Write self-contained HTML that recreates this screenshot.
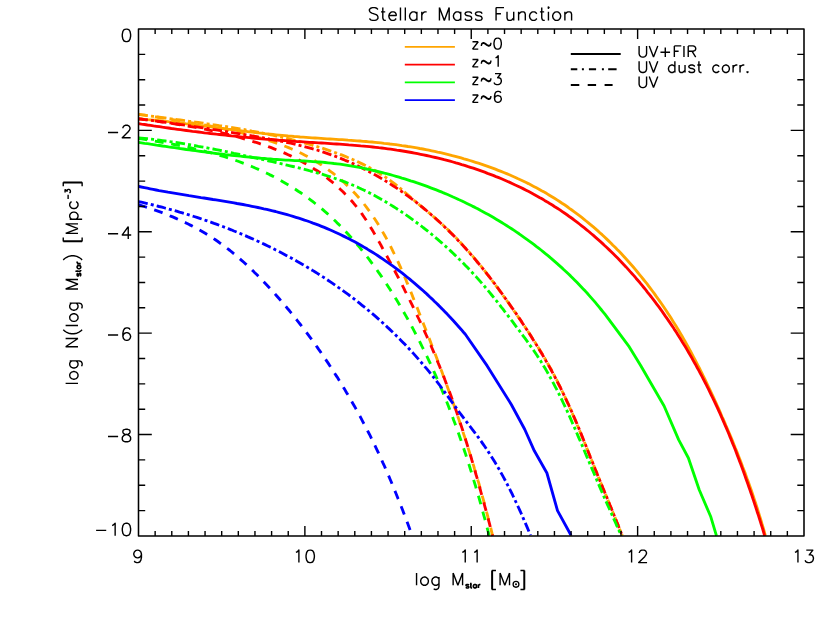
<!DOCTYPE html>
<html><head><meta charset="utf-8"><title>Stellar Mass Function</title>
<style>html,body{margin:0;padding:0;background:#fff;}svg{display:block;}text{font-family:"Liberation Sans",sans-serif;fill:#000;}</style></head><body>
<svg width="830" height="624" viewBox="0 0 830 624">
<rect width="830" height="624" fill="#fff"/>
<defs><clipPath id="cp"><rect x="138.5" y="29.0" width="665.5" height="507.55000000000007"/></clipPath></defs>
<g clip-path="url(#cp)" fill="none" stroke-width="2.85" stroke-linejoin="round">
<path d="M138.5,118.8 L141.5,119.0 L144.5,119.3 L147.5,119.6 L150.5,119.8 L153.5,120.1 L156.5,120.4 L159.5,120.7 L162.5,121.0 L165.5,121.3 L168.5,121.7 L171.5,122.0 L174.4,122.3 L177.4,122.7 L180.4,123.0 L183.4,123.4 L186.4,123.8 L189.4,124.1 L192.4,124.5 L195.4,124.9 L198.4,125.3 L201.4,125.7 L204.4,126.0 L207.3,126.4 L210.3,126.8 L213.3,127.2 L216.3,127.6 L219.3,128.0 L222.3,128.4 L225.3,128.8 L228.3,129.2 L231.3,129.5 L234.3,129.9 L237.2,130.3 L240.2,130.7 L243.2,131.1 L246.2,131.4 L249.2,131.8 L252.2,132.2 L255.2,132.5 L258.2,132.9 L261.2,133.2 L264.2,133.6 L267.1,133.9 L270.1,134.2 L273.1,134.5 L276.1,134.8 L279.1,135.1 L282.1,135.4 L285.1,135.7 L288.1,136.0 L291.1,136.2 L294.1,136.5 L297.1,136.7 L300.1,137.0 L303.1,137.2 L306.1,137.4 L309.1,137.6 L312.1,137.8 L315.1,138.0 L318.0,138.2 L321.0,138.4 L324.0,138.6 L327.0,138.8 L330.0,139.0 L333.0,139.2 L336.0,139.4 L339.0,139.6 L342.0,139.7 L345.0,139.9 L348.0,140.2 L351.0,140.4 L354.0,140.6 L357.0,140.8 L360.0,141.0 L363.0,141.3 L366.0,141.5 L369.0,141.8 L372.0,142.0 L375.0,142.3 L378.0,142.6 L381.0,142.9 L384.0,143.3 L387.0,143.6 L390.0,144.0 L393.0,144.3 L396.0,144.7 L398.9,145.1 L401.9,145.6 L404.9,146.0 L407.9,146.5 L410.9,146.9 L413.9,147.4 L416.9,147.9 L419.8,148.5 L422.8,149.0 L425.8,149.6 L428.8,150.2 L431.7,150.8 L434.7,151.4 L437.6,152.1 L440.6,152.7 L443.5,153.4 L446.5,154.1 L449.4,154.8 L452.3,155.6 L455.3,156.3 L458.2,157.1 L461.1,157.9 L464.0,158.8 L466.9,159.6 L469.8,160.5 L472.7,161.4 L475.5,162.3 L478.4,163.2 L481.3,164.1 L484.1,165.1 L487.0,166.1 L489.8,167.1 L492.6,168.1 L495.4,169.2 L498.2,170.3 L501.0,171.4 L503.8,172.5 L506.6,173.6 L509.4,174.8 L512.1,176.0 L514.9,177.2 L517.6,178.5 L520.3,179.7 L523.0,181.0 L525.7,182.3 L528.4,183.6 L531.1,185.0 L533.7,186.4 L536.4,187.8 L539.0,189.2 L541.6,190.7 L544.2,192.1 L546.8,193.6 L549.4,195.2 L551.9,196.7 L554.5,198.3 L557.0,199.9 L559.5,201.5 L562.0,203.2 L564.5,204.8 L567.0,206.5 L569.4,208.3 L571.8,210.0 L574.3,211.8 L576.7,213.6 L579.1,215.4 L581.4,217.2 L583.8,219.1 L586.1,221.0 L588.4,222.9 L590.8,224.8 L593.0,226.7 L595.3,228.7 L597.6,230.7 L599.8,232.7 L602.1,234.7 L604.3,236.8 L606.5,238.9 L608.6,240.9 L610.8,243.0 L612.9,245.2 L615.1,247.3 L617.2,249.5 L619.3,251.6 L621.4,253.8 L623.4,256.0 L625.5,258.3 L627.5,260.5 L629.5,262.8 L631.5,265.0 L633.5,267.3 L635.5,269.6 L637.4,272.0 L639.3,274.3 L641.2,276.6 L643.1,279.0 L645.0,281.4 L646.9,283.7 L648.7,286.1 L650.6,288.6 L652.4,291.0 L654.2,293.4 L655.9,295.9 L657.7,298.3 L659.5,300.8 L661.2,303.2 L662.9,305.7 L664.6,308.2 L666.3,310.7 L667.9,313.3 L669.6,315.8 L671.2,318.3 L672.8,320.9 L674.4,323.4 L676.0,326.0 L677.5,328.5 L679.1,331.1 L680.6,333.7 L682.1,336.3 L683.6,338.9 L685.1,341.5 L686.6,344.1 L688.0,346.7 L689.5,349.4 L690.9,352.0 L692.3,354.6 L693.7,357.3 L695.1,359.9 L696.5,362.6 L697.9,365.3 L699.3,368.0 L700.6,370.6 L702.0,373.3 L703.3,376.0 L704.6,378.7 L705.9,381.4 L707.2,384.1 L708.5,386.8 L709.8,389.6 L711.1,392.3 L712.4,395.0 L713.6,397.7 L714.9,400.5 L716.1,403.2 L717.4,406.0 L718.6,408.7 L719.8,411.4 L721.0,414.2 L722.2,417.0 L723.5,419.7 L724.7,422.5 L725.8,425.3 L727.0,428.0 L728.2,430.8 L729.4,433.6 L730.6,436.4 L731.7,439.1 L732.9,441.9 L734.0,444.7 L735.1,447.5 L736.3,450.3 L737.4,453.1 L738.5,455.9 L739.6,458.7 L740.7,461.5 L741.8,464.4 L742.8,467.2 L743.9,470.0 L745.0,472.8 L746.0,475.7 L747.0,478.5 L748.1,481.3 L749.1,484.2 L750.1,487.0 L751.1,489.8 L752.1,492.7 L753.0,495.5 L754.0,498.4 L754.9,501.3 L755.9,504.1 L756.8,507.0 L757.7,509.8 L758.6,512.7 L759.5,515.6 L760.4,518.5 L761.3,521.4 L762.1,524.2 L763.0,527.1 L763.8,530.0 L764.6,532.9 L765.4,535.8" stroke="#FFA500"/>
<path d="M138.5,114.3 L141.5,114.7 L144.5,115.1 L147.4,115.6 L150.4,116.0 L153.4,116.4 L156.4,116.8 L159.4,117.2 L162.4,117.6 L165.4,118.0 L168.4,118.4 L171.3,118.8 L174.3,119.2 L177.3,119.6 L180.3,120.0 L183.3,120.4 L186.3,120.8 L189.3,121.3 L192.3,121.7 L195.3,122.1 L198.3,122.5 L201.3,122.9 L204.2,123.4 L207.2,123.8 L210.2,124.2 L213.2,124.7 L216.2,125.1 L219.2,125.6 L222.2,126.0 L225.2,126.5 L228.1,127.0 L231.1,127.4 L234.1,127.9 L237.1,128.4 L240.1,128.9 L243.0,129.4 L246.0,130.0 L249.0,130.5 L251.9,131.1 L254.9,131.6 L257.9,132.2 L260.8,132.8 L263.8,133.3 L266.7,133.9 L269.7,134.6 L272.7,135.2 L275.6,135.8 L278.5,136.5 L281.5,137.2 L284.4,137.8 L287.4,138.5 L290.3,139.2 L293.2,140.0 L296.1,140.7 L299.1,141.5 L302.0,142.3 L304.9,143.1 L307.8,143.9 L310.7,144.7 L313.6,145.6 L316.5,146.4 L319.4,147.3 L322.3,148.2 L325.2,149.2 L328.0,150.1 L330.9,151.1 L333.8,152.1 L336.6,153.1 L339.4,154.1 L342.3,155.2 L345.1,156.3 L347.9,157.5 L350.7,158.6 L353.4,159.8 L356.2,161.0 L358.9,162.3 L361.6,163.6 L364.3,164.9 L367.0,166.3 L369.7,167.7 L372.3,169.1 L374.9,170.6 L377.5,172.1 L380.1,173.7 L382.6,175.3 L385.1,176.9 L387.6,178.6 L390.0,180.3 L392.4,182.1 L394.8,183.9 L397.2,185.8 L399.5,187.7 L401.8,189.7 L404.1,191.6 L406.4,193.6 L408.7,195.6 L410.9,197.6 L413.2,199.6 L415.5,201.5 L417.8,203.5 L420.2,205.5 L422.5,207.4 L424.8,209.4 L427.1,211.3 L429.5,213.2 L431.8,215.2 L434.1,217.2 L436.4,219.1 L438.6,221.1 L440.9,223.2 L443.1,225.2 L445.3,227.2 L447.5,229.3 L449.7,231.4 L451.8,233.5 L453.9,235.7 L456.0,237.8 L458.1,240.0 L460.2,242.2 L462.2,244.4 L464.2,246.6 L466.2,248.8 L468.2,251.1 L470.2,253.3 L472.2,255.6 L474.1,257.9 L476.0,260.2 L478.0,262.5 L479.9,264.8 L481.8,267.2 L483.6,269.5 L485.5,271.9 L487.3,274.3 L489.2,276.7 L491.0,279.1 L492.8,281.5 L494.6,283.9 L496.4,286.3 L498.2,288.7 L500.0,291.2 L501.8,293.6 L503.5,296.1 L505.3,298.5 L507.1,301.0 L508.8,303.5 L510.5,305.9 L512.3,308.4 L514.0,310.9 L515.7,313.4 L517.5,315.9 L519.2,318.4 L520.9,320.8 L522.6,323.4 L524.3,325.9 L526.0,328.4 L527.6,330.9 L529.3,333.4 L530.9,335.9 L532.6,338.5 L534.2,341.0 L535.8,343.6 L537.4,346.1 L539.0,348.7 L540.6,351.3 L542.2,353.9 L543.7,356.4 L545.2,359.0 L546.7,361.7 L548.2,364.3 L549.7,366.9 L551.2,369.5 L552.6,372.2 L554.0,374.9 L555.4,377.5 L556.8,380.2 L558.1,382.9 L559.5,385.6 L560.8,388.3 L562.1,391.0 L563.4,393.7 L564.7,396.4 L566.0,399.2 L567.2,401.9 L568.5,404.6 L569.7,407.4 L570.9,410.2 L572.1,412.9 L573.3,415.7 L574.5,418.5 L575.7,421.2 L576.9,424.0 L578.0,426.8 L579.2,429.6 L580.4,432.4 L581.5,435.2 L582.6,437.9 L583.8,440.7 L584.9,443.5 L586.1,446.3 L587.2,449.1 L588.3,451.9 L589.5,454.7 L590.6,457.5 L591.7,460.3 L592.9,463.1 L594.0,465.9 L595.1,468.7 L596.3,471.5 L597.4,474.3 L598.5,477.1 L599.7,479.9 L600.8,482.7 L602.0,485.5 L603.1,488.3 L604.3,491.1 L605.4,493.8 L606.5,496.6 L607.7,499.4 L608.8,502.2 L609.9,505.0 L611.1,507.8 L612.2,510.6 L613.3,513.4 L614.5,516.2 L615.6,519.0 L616.7,521.8 L617.9,524.6 L619.0,527.4 L620.1,530.2 L621.2,533.0 L622.3,535.8" stroke="#FFA500" stroke-dasharray="9.481 3.110 3.010 3.110"/>
<path d="M138.5,114.3 L141.5,114.8 L144.4,115.2 L147.4,115.7 L150.4,116.1 L153.4,116.6 L156.4,117.0 L159.3,117.5 L162.3,117.9 L165.3,118.4 L168.3,118.9 L171.3,119.3 L174.2,119.8 L177.2,120.3 L180.2,120.8 L183.2,121.3 L186.2,121.8 L189.2,122.3 L192.1,122.8 L195.1,123.3 L198.1,123.8 L201.1,124.4 L204.1,124.9 L207.0,125.5 L210.0,126.0 L213.0,126.6 L215.9,127.2 L218.9,127.8 L221.8,128.4 L224.8,129.1 L227.8,129.7 L230.7,130.4 L233.6,131.0 L236.6,131.7 L239.5,132.4 L242.5,133.1 L245.4,133.9 L248.3,134.6 L251.2,135.4 L254.1,136.2 L257.0,137.0 L260.0,137.8 L262.8,138.7 L265.7,139.6 L268.6,140.5 L271.5,141.4 L274.3,142.3 L277.2,143.3 L280.0,144.3 L282.9,145.4 L285.7,146.5 L288.5,147.6 L291.2,148.8 L294.0,150.0 L296.7,151.2 L299.5,152.5 L302.2,153.8 L304.9,155.2 L307.5,156.6 L310.2,158.1 L312.8,159.6 L315.4,161.1 L318.0,162.7 L320.5,164.3 L323.0,166.0 L325.5,167.7 L328.0,169.5 L330.4,171.3 L332.9,173.1 L335.2,175.0 L337.6,176.9 L339.9,178.8 L342.2,180.8 L344.4,182.8 L346.6,184.9 L348.8,187.0 L350.9,189.1 L353.0,191.3 L355.1,193.5 L357.1,195.7 L359.1,198.0 L361.1,200.3 L363.0,202.6 L364.8,205.0 L366.6,207.4 L368.4,209.8 L370.2,212.2 L371.9,214.7 L373.6,217.2 L375.3,219.7 L376.9,222.2 L378.5,224.8 L380.1,227.4 L381.6,230.0 L383.1,232.6 L384.6,235.2 L386.1,237.9 L387.5,240.5 L388.9,243.2 L390.3,245.9 L391.7,248.6 L393.0,251.3 L394.3,254.0 L395.6,256.7 L396.9,259.4 L398.2,262.2 L399.4,264.9 L400.7,267.7 L401.9,270.5 L403.1,273.2 L404.3,276.0 L405.5,278.8 L406.6,281.6 L407.8,284.4 L408.9,287.1 L410.1,289.9 L411.2,292.7 L412.3,295.5 L413.4,298.4 L414.6,301.2 L415.7,304.0 L416.8,306.8 L417.9,309.6 L419.0,312.4 L420.1,315.2 L421.2,318.0 L422.3,320.8 L423.4,323.7 L424.5,326.5 L425.6,329.3 L426.7,332.1 L427.8,334.9 L428.9,337.7 L430.0,340.5 L431.0,343.3 L432.1,346.2 L433.2,349.0 L434.3,351.8 L435.4,354.6 L436.5,357.4 L437.5,360.2 L438.6,363.1 L439.7,365.9 L440.7,368.7 L441.8,371.5 L442.8,374.4 L443.9,377.2 L444.9,380.0 L446.0,382.9 L447.0,385.7 L448.0,388.5 L449.0,391.4 L450.1,394.2 L451.1,397.0 L452.1,399.9 L453.1,402.7 L454.1,405.6 L455.1,408.4 L456.0,411.3 L457.0,414.1 L458.0,417.0 L459.0,419.9 L459.9,422.7 L460.9,425.6 L461.8,428.5 L462.8,431.3 L463.7,434.2 L464.7,437.1 L465.6,439.9 L466.5,442.8 L467.4,445.7 L468.3,448.6 L469.2,451.4 L470.1,454.3 L471.0,457.2 L471.9,460.1 L472.8,463.0 L473.7,465.9 L474.5,468.8 L475.4,471.7 L476.2,474.5 L477.1,477.4 L477.9,480.3 L478.8,483.2 L479.6,486.2 L480.4,489.1 L481.2,492.0 L482.0,494.9 L482.8,497.8 L483.6,500.7 L484.4,503.6 L485.2,506.5 L486.0,509.4 L486.7,512.4 L487.5,515.3 L488.2,518.2 L489.0,521.1 L489.7,524.1 L490.5,527.0 L491.2,529.9 L491.9,532.9 L492.6,535.8" stroke="#FFA500" stroke-dasharray="8.880 7.742"/>
<path d="M138.5,123.6 L141.5,124.1 L144.5,124.5 L147.5,125.0 L150.5,125.4 L153.5,125.9 L156.5,126.3 L159.4,126.7 L162.4,127.2 L165.4,127.6 L168.4,128.0 L171.4,128.5 L174.4,128.9 L177.4,129.3 L180.4,129.7 L183.4,130.1 L186.4,130.5 L189.4,130.9 L192.4,131.3 L195.4,131.6 L198.4,132.0 L201.4,132.4 L204.4,132.8 L207.4,133.1 L210.4,133.5 L213.4,133.8 L216.4,134.2 L219.4,134.5 L222.4,134.9 L225.4,135.2 L228.4,135.5 L231.4,135.9 L234.4,136.2 L237.4,136.5 L240.4,136.8 L243.4,137.1 L246.4,137.4 L249.4,137.7 L252.4,138.0 L255.5,138.3 L258.5,138.5 L261.5,138.8 L264.5,139.1 L267.5,139.3 L270.5,139.6 L273.5,139.8 L276.5,140.0 L279.5,140.3 L282.5,140.5 L285.5,140.7 L288.5,140.9 L291.5,141.2 L294.5,141.4 L297.6,141.6 L300.6,141.7 L303.6,141.9 L306.6,142.1 L309.6,142.3 L312.6,142.5 L315.6,142.7 L318.6,142.9 L321.6,143.0 L324.6,143.2 L327.6,143.4 L330.6,143.6 L333.7,143.8 L336.7,144.0 L339.7,144.2 L342.7,144.4 L345.7,144.6 L348.7,144.9 L351.7,145.1 L354.7,145.3 L357.7,145.6 L360.7,145.9 L363.7,146.1 L366.7,146.4 L369.7,146.7 L372.7,147.0 L375.7,147.3 L378.7,147.7 L381.7,148.0 L384.7,148.4 L387.7,148.8 L390.7,149.2 L393.7,149.6 L396.7,150.1 L399.7,150.5 L402.7,151.0 L405.7,151.5 L408.6,152.0 L411.6,152.5 L414.6,153.1 L417.6,153.7 L420.6,154.3 L423.5,154.9 L426.5,155.5 L429.5,156.1 L432.4,156.8 L435.4,157.5 L438.3,158.2 L441.3,158.9 L444.2,159.7 L447.1,160.4 L450.1,161.2 L453.0,162.0 L455.9,162.9 L458.8,163.7 L461.7,164.6 L464.6,165.4 L467.5,166.4 L470.4,167.3 L473.3,168.2 L476.1,169.2 L479.0,170.2 L481.8,171.2 L484.7,172.2 L487.5,173.3 L490.3,174.3 L493.2,175.4 L496.0,176.6 L498.8,177.7 L501.5,178.8 L504.3,180.0 L507.1,181.2 L509.8,182.4 L512.6,183.7 L515.3,185.0 L518.0,186.2 L520.8,187.6 L523.5,188.9 L526.1,190.2 L528.8,191.6 L531.5,193.0 L534.1,194.4 L536.8,195.9 L539.4,197.4 L542.0,198.8 L544.6,200.4 L547.2,201.9 L549.7,203.5 L552.3,205.0 L554.8,206.7 L557.3,208.3 L559.9,209.9 L562.3,211.6 L564.8,213.3 L567.3,215.0 L569.7,216.8 L572.2,218.5 L574.6,220.3 L577.0,222.1 L579.4,224.0 L581.7,225.8 L584.1,227.7 L586.4,229.6 L588.8,231.5 L591.1,233.5 L593.4,235.4 L595.6,237.4 L597.9,239.4 L600.2,241.4 L602.4,243.4 L604.6,245.5 L606.8,247.5 L609.0,249.6 L611.2,251.7 L613.3,253.8 L615.5,256.0 L617.6,258.1 L619.7,260.3 L621.8,262.5 L623.9,264.7 L626.0,266.9 L628.0,269.1 L630.0,271.4 L632.1,273.7 L634.1,275.9 L636.0,278.2 L638.0,280.5 L640.0,282.8 L641.9,285.2 L643.8,287.5 L645.8,289.9 L647.6,292.3 L649.5,294.6 L651.4,297.0 L653.2,299.4 L655.1,301.9 L656.9,304.3 L658.7,306.7 L660.5,309.2 L662.3,311.6 L664.0,314.1 L665.7,316.6 L667.5,319.1 L669.2,321.6 L670.9,324.1 L672.6,326.6 L674.2,329.1 L675.9,331.6 L677.5,334.2 L679.1,336.7 L680.7,339.3 L682.3,341.9 L683.9,344.4 L685.5,347.0 L687.0,349.6 L688.5,352.2 L690.0,354.8 L691.6,357.4 L693.0,360.1 L694.5,362.7 L696.0,365.3 L697.4,368.0 L698.9,370.6 L700.3,373.3 L701.7,375.9 L703.1,378.6 L704.5,381.3 L705.9,384.0 L707.2,386.7 L708.6,389.4 L709.9,392.1 L711.2,394.8 L712.5,397.5 L713.8,400.2 L715.1,402.9 L716.4,405.7 L717.7,408.4 L718.9,411.2 L720.2,413.9 L721.4,416.7 L722.6,419.4 L723.8,422.2 L725.0,425.0 L726.2,427.7 L727.4,430.5 L728.6,433.3 L729.7,436.1 L730.9,438.9 L732.0,441.7 L733.1,444.5 L734.3,447.3 L735.4,450.1 L736.5,452.9 L737.5,455.7 L738.6,458.6 L739.7,461.4 L740.8,464.2 L741.8,467.0 L742.9,469.9 L743.9,472.7 L744.9,475.6 L745.9,478.4 L746.9,481.3 L747.9,484.1 L748.9,487.0 L749.9,489.8 L750.9,492.7 L751.9,495.5 L752.8,498.4 L753.8,501.3 L754.7,504.1 L755.7,507.0 L756.6,509.9 L757.5,512.8 L758.5,515.6 L759.4,518.5 L760.3,521.4 L761.2,524.3 L762.1,527.1 L763.0,530.0 L763.8,532.9 L764.7,535.8" stroke="#FF0000"/>
<path d="M138.5,118.8 L141.5,119.2 L144.5,119.6 L147.5,119.9 L150.5,120.3 L153.5,120.7 L156.5,121.1 L159.5,121.5 L162.5,121.9 L165.5,122.3 L168.5,122.7 L171.4,123.2 L174.4,123.6 L177.4,124.0 L180.4,124.5 L183.4,124.9 L186.4,125.3 L189.3,125.8 L192.3,126.2 L195.3,126.7 L198.3,127.1 L201.3,127.6 L204.3,128.1 L207.2,128.5 L210.2,129.0 L213.2,129.5 L216.2,129.9 L219.1,130.4 L222.1,130.9 L225.1,131.4 L228.1,131.9 L231.1,132.4 L234.0,132.9 L237.0,133.4 L240.0,133.9 L243.0,134.4 L246.0,134.9 L249.0,135.4 L251.9,135.9 L254.9,136.4 L257.9,136.9 L260.9,137.4 L263.9,138.0 L266.9,138.5 L269.8,139.1 L272.8,139.6 L275.8,140.2 L278.8,140.8 L281.7,141.4 L284.7,142.0 L287.6,142.6 L290.6,143.2 L293.6,143.9 L296.5,144.6 L299.4,145.3 L302.4,146.0 L305.3,146.8 L308.2,147.6 L311.1,148.4 L314.0,149.2 L316.9,150.0 L319.8,150.9 L322.6,151.8 L325.5,152.8 L328.3,153.8 L331.2,154.8 L334.0,155.8 L336.8,156.9 L339.6,158.0 L342.4,159.1 L345.2,160.3 L348.0,161.4 L350.7,162.6 L353.5,163.9 L356.2,165.2 L358.9,166.4 L361.6,167.8 L364.3,169.1 L367.0,170.5 L369.7,171.9 L372.3,173.3 L375.0,174.8 L377.6,176.3 L380.2,177.8 L382.8,179.3 L385.4,180.9 L388.0,182.5 L390.5,184.1 L393.0,185.7 L395.6,187.4 L398.1,189.1 L400.6,190.8 L403.0,192.5 L405.5,194.3 L408.0,196.1 L410.4,197.9 L412.8,199.7 L415.2,201.5 L417.6,203.4 L420.0,205.3 L422.3,207.2 L424.7,209.1 L427.0,211.0 L429.3,213.0 L431.6,215.0 L433.9,216.9 L436.1,219.0 L438.4,221.0 L440.6,223.0 L442.8,225.1 L445.0,227.2 L447.1,229.3 L449.3,231.4 L451.4,233.5 L453.6,235.6 L455.7,237.8 L457.7,240.0 L459.8,242.2 L461.9,244.4 L463.9,246.6 L465.9,248.8 L467.9,251.1 L469.9,253.3 L471.9,255.6 L473.9,257.9 L475.8,260.2 L477.7,262.5 L479.7,264.8 L481.6,267.1 L483.5,269.5 L485.4,271.8 L487.2,274.2 L489.1,276.5 L490.9,278.9 L492.8,281.3 L494.6,283.7 L496.4,286.1 L498.2,288.5 L500.0,291.0 L501.8,293.4 L503.6,295.8 L505.3,298.3 L507.1,300.8 L508.9,303.2 L510.6,305.7 L512.3,308.2 L514.1,310.7 L515.8,313.1 L517.5,315.6 L519.2,318.1 L520.9,320.6 L522.5,323.2 L524.2,325.7 L525.9,328.2 L527.5,330.7 L529.2,333.3 L530.8,335.8 L532.4,338.4 L534.0,340.9 L535.6,343.5 L537.2,346.1 L538.8,348.6 L540.3,351.2 L541.9,353.8 L543.4,356.4 L544.9,359.0 L546.4,361.6 L547.9,364.3 L549.4,366.9 L550.9,369.5 L552.3,372.2 L553.7,374.8 L555.2,377.5 L556.6,380.2 L557.9,382.9 L559.3,385.5 L560.7,388.2 L562.0,390.9 L563.3,393.6 L564.6,396.4 L565.9,399.1 L567.2,401.8 L568.5,404.5 L569.7,407.3 L571.0,410.0 L572.2,412.8 L573.4,415.5 L574.6,418.3 L575.8,421.1 L577.0,423.9 L578.2,426.7 L579.3,429.4 L580.5,432.2 L581.6,435.0 L582.7,437.8 L583.8,440.6 L585.0,443.4 L586.1,446.2 L587.2,449.1 L588.3,451.9 L589.4,454.7 L590.5,457.5 L591.7,460.3 L592.8,463.1 L593.9,465.9 L595.0,468.7 L596.2,471.5 L597.3,474.3 L598.4,477.1 L599.6,479.9 L600.7,482.7 L601.9,485.5 L603.0,488.3 L604.2,491.0 L605.3,493.8 L606.5,496.6 L607.6,499.4 L608.8,502.2 L609.9,505.0 L611.1,507.8 L612.2,510.6 L613.3,513.4 L614.5,516.2 L615.6,519.0 L616.7,521.8 L617.9,524.6 L619.0,527.4 L620.1,530.2 L621.2,533.0 L622.3,535.8" stroke="#FF0000" stroke-dasharray="9.480 3.110 3.009 3.110"/>
<path d="M138.5,118.8 L141.5,119.2 L144.5,119.6 L147.5,119.9 L150.5,120.3 L153.5,120.7 L156.5,121.2 L159.5,121.6 L162.5,122.0 L165.5,122.4 L168.5,122.9 L171.5,123.3 L174.5,123.8 L177.5,124.3 L180.5,124.8 L183.4,125.3 L186.4,125.8 L189.4,126.3 L192.4,126.8 L195.4,127.4 L198.3,127.9 L201.3,128.5 L204.3,129.1 L207.2,129.7 L210.2,130.3 L213.2,131.0 L216.1,131.6 L219.1,132.3 L222.0,133.0 L224.9,133.7 L227.9,134.4 L230.8,135.2 L233.7,135.9 L236.7,136.7 L239.6,137.5 L242.5,138.3 L245.4,139.2 L248.3,140.0 L251.2,140.9 L254.1,141.8 L257.0,142.7 L259.8,143.7 L262.7,144.7 L265.6,145.6 L268.4,146.7 L271.3,147.7 L274.1,148.8 L276.9,149.9 L279.7,151.1 L282.5,152.2 L285.3,153.4 L288.1,154.7 L290.8,155.9 L293.5,157.3 L296.2,158.6 L298.9,160.0 L301.6,161.4 L304.3,162.9 L306.9,164.4 L309.5,166.0 L312.1,167.5 L314.6,169.2 L317.2,170.8 L319.7,172.5 L322.1,174.3 L324.6,176.1 L327.0,177.9 L329.4,179.8 L331.7,181.7 L334.1,183.6 L336.3,185.6 L338.6,187.6 L340.8,189.7 L343.0,191.7 L345.1,193.9 L347.2,196.0 L349.3,198.2 L351.3,200.5 L353.3,202.8 L355.2,205.1 L357.1,207.4 L358.9,209.8 L360.7,212.2 L362.5,214.7 L364.2,217.2 L365.9,219.7 L367.5,222.2 L369.1,224.8 L370.7,227.4 L372.3,230.0 L373.8,232.6 L375.3,235.2 L376.8,237.8 L378.3,240.5 L379.8,243.1 L381.3,245.8 L382.7,248.5 L384.2,251.1 L385.6,253.8 L387.1,256.5 L388.5,259.1 L389.9,261.8 L391.4,264.5 L392.8,267.1 L394.2,269.8 L395.6,272.5 L397.0,275.2 L398.4,277.8 L399.8,280.5 L401.2,283.2 L402.6,285.9 L404.0,288.6 L405.3,291.3 L406.7,294.0 L408.0,296.7 L409.4,299.4 L410.7,302.1 L412.1,304.9 L413.4,307.6 L414.7,310.3 L416.0,313.0 L417.3,315.8 L418.6,318.5 L419.9,321.2 L421.2,324.0 L422.4,326.7 L423.7,329.5 L424.9,332.2 L426.2,335.0 L427.4,337.7 L428.7,340.5 L429.9,343.3 L431.1,346.0 L432.3,348.8 L433.5,351.6 L434.7,354.4 L435.8,357.2 L437.0,360.0 L438.1,362.8 L439.3,365.6 L440.4,368.4 L441.5,371.2 L442.7,374.0 L443.8,376.8 L444.8,379.6 L445.9,382.4 L447.0,385.3 L448.1,388.1 L449.1,390.9 L450.2,393.8 L451.2,396.6 L452.2,399.5 L453.2,402.3 L454.2,405.2 L455.2,408.0 L456.2,410.9 L457.2,413.7 L458.2,416.6 L459.1,419.5 L460.1,422.4 L461.0,425.2 L462.0,428.1 L462.9,431.0 L463.8,433.9 L464.7,436.8 L465.6,439.6 L466.5,442.5 L467.4,445.4 L468.3,448.3 L469.2,451.2 L470.1,454.1 L471.0,457.0 L471.8,459.9 L472.7,462.8 L473.5,465.7 L474.4,468.6 L475.2,471.6 L476.0,474.5 L476.9,477.4 L477.7,480.3 L478.5,483.2 L479.3,486.1 L480.1,489.0 L480.9,492.0 L481.7,494.9 L482.5,497.8 L483.3,500.7 L484.1,503.6 L484.9,506.6 L485.7,509.5 L486.5,512.4 L487.2,515.3 L488.0,518.3 L488.8,521.2 L489.6,524.1 L490.3,527.0 L491.1,530.0 L491.8,532.9 L492.6,535.8" stroke="#FF0000" stroke-dasharray="8.871 7.735"/>
<path d="M138.5,142.4 L141.5,142.8 L144.5,143.3 L147.5,143.7 L150.5,144.2 L153.5,144.6 L156.5,145.1 L159.5,145.5 L162.5,146.0 L165.5,146.4 L168.5,146.9 L171.5,147.3 L174.5,147.7 L177.5,148.2 L180.4,148.6 L183.4,149.0 L186.4,149.5 L189.4,149.9 L192.4,150.3 L195.4,150.7 L198.4,151.1 L201.4,151.5 L204.4,151.9 L207.4,152.3 L210.4,152.7 L213.4,153.1 L216.4,153.5 L219.5,153.8 L222.5,154.2 L225.5,154.6 L228.5,154.9 L231.5,155.3 L234.5,155.6 L237.5,155.9 L240.5,156.2 L243.5,156.6 L246.5,156.9 L249.5,157.2 L252.5,157.5 L255.6,157.7 L258.6,158.0 L261.6,158.3 L264.6,158.5 L267.6,158.8 L270.6,159.0 L273.7,159.3 L276.7,159.5 L279.7,159.7 L282.7,159.9 L285.8,160.1 L288.8,160.2 L291.8,160.4 L294.9,160.6 L297.9,160.7 L300.9,160.9 L303.9,161.0 L307.0,161.2 L310.0,161.4 L313.0,161.6 L316.0,161.8 L319.1,162.0 L322.1,162.2 L325.1,162.5 L328.1,162.8 L331.1,163.1 L334.1,163.5 L337.1,163.8 L340.1,164.2 L343.1,164.6 L346.1,165.1 L349.0,165.6 L352.0,166.1 L355.0,166.6 L357.9,167.2 L360.9,167.7 L363.9,168.3 L366.8,169.0 L369.8,169.6 L372.7,170.3 L375.6,171.0 L378.6,171.7 L381.5,172.4 L384.4,173.2 L387.4,173.9 L390.3,174.7 L393.2,175.5 L396.1,176.3 L399.0,177.2 L401.9,178.1 L404.8,178.9 L407.7,179.8 L410.6,180.8 L413.5,181.7 L416.4,182.7 L419.3,183.6 L422.1,184.6 L425.0,185.7 L427.8,186.7 L430.7,187.8 L433.5,188.8 L436.3,189.9 L439.2,191.1 L442.0,192.2 L444.8,193.4 L447.6,194.5 L450.3,195.7 L453.1,197.0 L455.9,198.2 L458.6,199.5 L461.4,200.7 L464.1,202.0 L466.9,203.4 L469.6,204.7 L472.3,206.1 L475.0,207.4 L477.7,208.8 L480.3,210.3 L483.0,211.7 L485.7,213.2 L488.3,214.6 L490.9,216.1 L493.5,217.6 L496.2,219.2 L498.8,220.7 L501.3,222.3 L503.9,223.9 L506.5,225.5 L509.0,227.1 L511.6,228.8 L514.1,230.4 L516.6,232.1 L519.1,233.8 L521.6,235.6 L524.0,237.3 L526.5,239.1 L528.9,240.8 L531.4,242.6 L533.8,244.4 L536.2,246.3 L538.6,248.1 L541.0,250.0 L543.3,251.9 L545.7,253.8 L548.0,255.7 L550.3,257.7 L552.6,259.6 L554.9,261.6 L557.2,263.6 L559.4,265.6 L561.7,267.6 L563.9,269.7 L566.1,271.7 L568.3,273.8 L570.5,275.9 L572.6,278.0 L574.8,280.2 L576.9,282.3 L579.0,284.5 L581.1,286.7 L583.2,288.9 L585.3,291.1 L587.3,293.3 L589.3,295.6 L591.3,297.9 L593.3,300.1 L595.3,302.4 L597.3,304.8 L599.2,307.1 L601.1,309.5 L603.0,311.8 L604.9,314.2 L629.3,346.9 L640.8,365.7 L664.1,406.0 L678.6,439.6 L688.4,458.0 L699.2,489.8 L710.8,516.8 L716.5,535.8" stroke="#00FF00"/>
<path d="M138.5,137.8 L141.5,138.1 L144.5,138.4 L147.5,138.7 L150.5,139.1 L153.5,139.4 L156.5,139.8 L159.5,140.2 L162.5,140.6 L165.5,141.0 L168.5,141.4 L171.5,141.8 L174.5,142.3 L177.5,142.7 L180.4,143.2 L183.4,143.7 L186.4,144.2 L189.4,144.7 L192.3,145.2 L195.3,145.7 L198.3,146.3 L201.3,146.8 L204.2,147.3 L207.2,147.9 L210.2,148.5 L213.1,149.0 L216.1,149.6 L219.1,150.2 L222.0,150.8 L225.0,151.4 L227.9,152.0 L230.9,152.6 L233.9,153.3 L236.8,153.9 L239.8,154.5 L242.7,155.2 L245.7,155.8 L248.6,156.5 L251.6,157.1 L254.5,157.8 L257.5,158.4 L260.5,159.1 L263.4,159.7 L266.4,160.4 L269.3,161.1 L272.3,161.7 L275.2,162.4 L278.2,163.1 L281.1,163.7 L284.0,164.4 L287.0,165.1 L289.9,165.8 L292.9,166.5 L295.8,167.2 L298.7,167.9 L301.7,168.7 L304.6,169.4 L307.5,170.2 L310.4,171.0 L313.3,171.7 L316.2,172.6 L319.1,173.4 L322.0,174.2 L324.9,175.1 L327.8,176.0 L330.6,176.9 L333.5,177.9 L336.3,178.8 L339.1,179.8 L342.0,180.9 L344.8,181.9 L347.6,183.0 L350.4,184.1 L353.2,185.3 L355.9,186.5 L358.7,187.7 L361.4,189.0 L364.2,190.2 L366.9,191.6 L369.6,192.9 L372.3,194.3 L375.0,195.8 L377.6,197.2 L380.3,198.7 L382.9,200.2 L385.5,201.7 L388.1,203.3 L390.7,204.9 L393.3,206.5 L395.9,208.1 L398.4,209.8 L401.0,211.5 L403.5,213.2 L406.0,214.9 L408.5,216.6 L410.9,218.4 L413.4,220.2 L415.8,222.0 L418.3,223.8 L420.7,225.6 L423.1,227.5 L425.5,229.3 L427.8,231.2 L430.2,233.1 L432.5,235.0 L434.8,237.0 L437.1,238.9 L439.4,240.9 L441.7,242.8 L443.9,244.8 L446.2,246.9 L448.4,248.9 L450.6,250.9 L452.8,253.0 L455.0,255.1 L457.2,257.1 L459.3,259.3 L461.4,261.4 L463.6,263.5 L465.7,265.7 L467.8,267.8 L469.8,270.0 L471.9,272.2 L473.9,274.4 L476.0,276.6 L478.0,278.9 L480.0,281.1 L482.0,283.4 L484.0,285.7 L485.9,288.0 L487.9,290.3 L489.8,292.6 L491.7,295.0 L493.6,297.3 L495.5,299.7 L497.4,302.0 L499.3,304.4 L501.1,306.8 L503.0,309.2 L504.8,311.6 L506.7,314.0 L508.5,316.4 L510.3,318.8 L512.2,321.2 L514.0,323.7 L515.8,326.1 L517.6,328.5 L519.5,330.9 L521.3,333.4 L523.1,335.8 L524.9,338.2 L526.7,340.7 L528.5,343.1 L530.2,345.6 L532.0,348.0 L533.7,350.5 L535.4,353.0 L537.1,355.5 L538.7,358.1 L540.4,360.6 L542.0,363.2 L543.5,365.7 L545.1,368.3 L546.6,370.9 L548.1,373.5 L549.6,376.2 L551.0,378.8 L552.5,381.4 L553.9,384.1 L555.3,386.8 L556.7,389.4 L558.0,392.1 L559.4,394.8 L560.7,397.5 L562.0,400.2 L563.3,403.0 L564.6,405.7 L565.9,408.4 L567.2,411.2 L568.4,413.9 L569.7,416.7 L570.9,419.4 L572.1,422.2 L573.3,425.0 L574.5,427.7 L575.8,430.5 L576.9,433.3 L578.1,436.1 L579.3,438.9 L580.5,441.6 L581.7,444.4 L582.9,447.2 L584.1,450.0 L585.2,452.8 L586.4,455.6 L587.6,458.3 L588.8,461.1 L589.9,463.9 L591.1,466.7 L592.3,469.5 L593.5,472.2 L594.7,475.0 L595.9,477.8 L597.0,480.6 L598.2,483.3 L599.4,486.1 L600.6,488.9 L601.8,491.7 L603.0,494.4 L604.2,497.2 L605.4,500.0 L606.6,502.7 L607.8,505.5 L609.1,508.2 L610.3,511.0 L611.5,513.8 L612.7,516.5 L614.0,519.3 L615.2,522.0 L616.4,524.8 L617.7,527.5 L618.9,530.3 L620.2,533.0 L621.4,535.8" stroke="#00FF00" stroke-dasharray="9.478 3.109 3.009 3.109"/>
<path d="M138.5,138.5 L141.4,138.9 L144.4,139.4 L147.3,139.9 L150.3,140.3 L153.3,140.8 L156.2,141.3 L159.2,141.8 L162.2,142.3 L165.1,142.8 L168.1,143.4 L171.1,143.9 L174.1,144.5 L177.1,145.1 L180.0,145.7 L183.0,146.3 L186.0,146.9 L189.0,147.5 L191.9,148.2 L194.9,148.9 L197.9,149.6 L200.8,150.3 L203.8,151.0 L206.8,151.8 L209.7,152.5 L212.7,153.3 L215.6,154.2 L218.5,155.0 L221.5,155.9 L224.4,156.7 L227.3,157.6 L230.2,158.6 L233.1,159.5 L235.9,160.5 L238.8,161.5 L241.7,162.6 L244.5,163.6 L247.3,164.7 L250.1,165.9 L252.9,167.0 L255.7,168.2 L258.5,169.4 L261.3,170.7 L264.0,171.9 L266.8,173.2 L269.5,174.6 L272.2,175.9 L274.8,177.3 L277.5,178.7 L280.2,180.2 L282.8,181.7 L285.4,183.2 L288.0,184.7 L290.6,186.3 L293.1,187.9 L295.7,189.5 L298.2,191.2 L300.7,192.8 L303.2,194.5 L305.6,196.3 L308.1,198.0 L310.5,199.8 L312.9,201.7 L315.2,203.5 L317.6,205.4 L319.9,207.3 L322.2,209.2 L324.5,211.2 L326.8,213.1 L329.0,215.1 L331.2,217.2 L333.4,219.2 L335.6,221.3 L337.7,223.4 L339.9,225.5 L342.0,227.7 L344.1,229.9 L346.1,232.0 L348.2,234.3 L350.2,236.5 L352.2,238.7 L354.2,241.0 L356.2,243.3 L358.1,245.6 L360.1,247.9 L362.0,250.3 L363.9,252.6 L365.8,255.0 L367.6,257.4 L369.5,259.8 L371.3,262.3 L373.1,264.7 L374.9,267.1 L376.7,269.6 L378.4,272.1 L380.2,274.6 L381.9,277.1 L383.6,279.6 L385.3,282.1 L387.0,284.7 L388.6,287.2 L390.3,289.8 L391.9,292.4 L393.5,295.0 L395.1,297.5 L396.7,300.1 L398.3,302.7 L399.8,305.3 L401.3,308.0 L402.9,310.6 L404.4,313.2 L405.9,315.9 L407.4,318.5 L408.8,321.1 L410.3,323.8 L411.8,326.5 L413.2,329.1 L414.6,331.8 L416.0,334.5 L417.4,337.2 L418.8,339.9 L420.2,342.6 L421.5,345.3 L422.8,348.0 L424.2,350.7 L425.5,353.4 L426.8,356.1 L428.1,358.9 L429.4,361.6 L430.7,364.3 L431.9,367.1 L433.2,369.8 L434.4,372.6 L435.6,375.4 L436.8,378.1 L438.0,380.9 L439.2,383.7 L440.4,386.5 L441.6,389.2 L442.7,392.0 L443.9,394.8 L445.0,397.6 L446.1,400.4 L447.3,403.2 L448.4,406.0 L449.5,408.9 L450.5,411.7 L451.6,414.5 L452.7,417.3 L453.7,420.2 L454.8,423.0 L455.8,425.8 L456.8,428.7 L457.9,431.5 L458.9,434.4 L459.9,437.2 L460.9,440.1 L461.8,442.9 L462.8,445.8 L463.8,448.7 L464.7,451.5 L465.7,454.4 L466.6,457.3 L467.6,460.2 L468.5,463.1 L469.4,465.9 L470.3,468.8 L471.2,471.7 L472.1,474.6 L473.0,477.5 L473.8,480.4 L474.7,483.3 L475.6,486.2 L476.4,489.1 L477.3,492.0 L478.1,494.9 L479.0,497.8 L479.8,500.7 L480.6,503.6 L481.4,506.6 L482.2,509.5 L483.0,512.4 L483.8,515.3 L484.6,518.2 L485.4,521.2 L486.2,524.1 L486.9,527.0 L487.7,529.9 L488.5,532.9 L489.2,535.8" stroke="#00FF00" stroke-dasharray="8.854 7.720"/>
<path d="M138.5,186.3 L141.4,187.0 L144.4,187.6 L147.3,188.2 L150.2,188.8 L153.2,189.4 L156.2,190.0 L159.1,190.6 L162.1,191.1 L165.1,191.6 L168.0,192.2 L171.0,192.7 L174.0,193.2 L177.0,193.7 L180.0,194.2 L183.0,194.7 L186.0,195.2 L189.0,195.7 L192.0,196.1 L195.0,196.6 L198.0,197.1 L201.0,197.6 L204.0,198.0 L207.0,198.5 L210.0,199.0 L213.0,199.5 L216.0,199.9 L219.0,200.4 L222.0,200.9 L225.0,201.4 L228.0,201.9 L231.0,202.4 L234.0,202.9 L237.0,203.5 L240.0,204.0 L243.0,204.5 L246.0,205.1 L248.9,205.7 L251.9,206.3 L254.9,206.9 L257.9,207.5 L260.8,208.1 L263.8,208.8 L266.7,209.4 L269.7,210.1 L272.6,210.8 L275.6,211.5 L278.5,212.3 L281.4,213.1 L284.3,213.9 L287.2,214.7 L290.1,215.5 L293.0,216.4 L295.9,217.3 L298.8,218.2 L301.7,219.1 L304.5,220.1 L307.4,221.0 L310.2,222.0 L313.0,223.1 L315.9,224.1 L318.7,225.2 L321.5,226.3 L324.3,227.4 L327.1,228.6 L329.8,229.8 L332.6,231.0 L335.3,232.2 L338.1,233.5 L340.8,234.8 L343.5,236.1 L346.2,237.4 L348.9,238.8 L351.6,240.2 L354.2,241.6 L356.9,243.1 L359.5,244.5 L362.1,246.0 L364.7,247.6 L367.3,249.1 L369.9,250.7 L372.5,252.3 L375.1,253.9 L377.6,255.5 L380.1,257.2 L382.6,258.9 L385.1,260.6 L387.6,262.4 L390.1,264.1 L392.6,265.9 L395.0,267.7 L397.4,269.5 L399.9,271.4 L402.3,273.2 L404.7,275.1 L407.0,277.0 L409.4,278.9 L411.7,280.9 L414.1,282.8 L416.4,284.8 L418.7,286.8 L421.0,288.8 L423.2,290.8 L425.5,292.8 L427.7,294.9 L429.9,297.0 L432.2,299.1 L434.3,301.2 L436.5,303.3 L438.7,305.4 L440.8,307.6 L443.0,309.7 L445.1,311.9 L447.2,314.1 L449.2,316.3 L451.3,318.5 L453.4,320.7 L455.4,323.0 L457.4,325.2 L459.4,327.5 L461.4,329.7 L463.3,332.0 L465.3,334.3 L487.2,365.9 L511.3,404.5 L524.8,429.5 L534.3,450.8 L546.9,473.0 L557.5,510.6 L571.0,535.3" stroke="#0000FF"/>
<path d="M138.5,201.6 L141.4,202.2 L144.4,202.9 L147.3,203.6 L150.3,204.3 L153.2,205.0 L156.1,205.7 L159.1,206.5 L162.0,207.2 L164.9,208.0 L167.9,208.8 L170.8,209.6 L173.7,210.4 L176.6,211.2 L179.5,212.1 L182.4,212.9 L185.3,213.8 L188.2,214.7 L191.1,215.6 L194.0,216.5 L196.9,217.4 L199.8,218.4 L202.7,219.4 L205.5,220.3 L208.4,221.3 L211.3,222.3 L214.1,223.4 L217.0,224.4 L219.8,225.5 L222.7,226.5 L225.5,227.6 L228.3,228.7 L231.2,229.8 L234.0,231.0 L236.8,232.1 L239.6,233.3 L242.4,234.5 L245.2,235.6 L248.0,236.9 L250.8,238.1 L253.6,239.3 L256.3,240.6 L259.1,241.8 L261.8,243.1 L264.6,244.4 L267.3,245.7 L270.1,247.1 L272.8,248.4 L275.5,249.8 L278.2,251.1 L280.9,252.5 L283.6,253.9 L286.3,255.4 L288.9,256.8 L291.6,258.2 L294.3,259.7 L296.9,261.2 L299.6,262.7 L302.2,264.2 L304.8,265.7 L307.4,267.3 L310.0,268.9 L312.6,270.4 L315.2,272.0 L317.8,273.6 L320.3,275.3 L322.9,276.9 L325.4,278.5 L327.9,280.2 L330.4,281.9 L333.0,283.6 L335.4,285.3 L337.9,287.1 L340.4,288.8 L342.9,290.6 L345.3,292.4 L347.8,294.2 L350.2,296.0 L352.6,297.8 L355.0,299.6 L357.4,301.5 L359.8,303.4 L362.1,305.3 L364.5,307.2 L366.8,309.1 L369.2,311.0 L371.5,313.0 L373.8,314.9 L376.1,316.9 L378.3,318.9 L380.6,320.9 L382.9,323.0 L385.1,325.0 L387.3,327.1 L389.5,329.1 L391.7,331.2 L393.9,333.3 L396.1,335.5 L398.2,337.6 L400.3,339.7 L402.5,341.9 L404.6,344.1 L406.7,346.3 L408.8,348.5 L410.8,350.7 L412.9,352.9 L414.9,355.1 L416.9,357.4 L418.9,359.7 L420.9,362.0 L422.9,364.3 L424.8,366.6 L426.8,368.9 L428.7,371.2 L430.6,373.6 L432.5,375.9 L434.4,378.3 L436.2,380.7 L438.1,383.1 L439.9,385.5 L441.7,388.0 L443.5,390.4 L445.3,392.9 L447.1,395.3 L448.9,397.8 L450.6,400.2 L452.4,402.7 L454.2,405.1 L456.0,407.6 L457.7,410.0 L459.5,412.5 L461.3,414.9 L463.2,417.4 L465.0,419.8 L466.8,422.2 L468.7,424.6 L470.5,427.0 L472.3,429.4 L474.2,431.8 L476.0,434.3 L477.8,436.7 L479.6,439.1 L481.4,441.6 L483.1,444.1 L484.8,446.5 L486.5,449.0 L488.2,451.6 L489.9,454.1 L491.5,456.7 L493.1,459.2 L494.7,461.8 L496.2,464.4 L497.7,467.0 L499.3,469.6 L500.7,472.3 L502.2,474.9 L503.7,477.6 L505.1,480.2 L506.5,482.9 L507.9,485.6 L509.3,488.3 L510.6,491.0 L512.0,493.7 L513.3,496.5 L514.6,499.2 L515.9,502.0 L517.2,504.7 L518.5,507.5 L519.7,510.2 L521.0,513.0 L522.2,515.8 L523.4,518.6 L524.6,521.3 L525.8,524.1 L527.0,526.9 L528.2,529.7 L529.3,532.5 L530.5,535.3" stroke="#0000FF" stroke-dasharray="9.466 3.105 3.005 3.105"/>
<path d="M138.5,204.7 L141.4,205.6 L144.3,206.5 L147.2,207.4 L150.0,208.4 L152.9,209.4 L155.8,210.4 L158.6,211.4 L161.5,212.4 L164.3,213.5 L167.1,214.6 L169.9,215.8 L172.7,216.9 L175.5,218.1 L178.3,219.4 L181.1,220.6 L183.8,221.9 L186.6,223.2 L189.3,224.6 L192.0,225.9 L194.7,227.4 L197.3,228.8 L200.0,230.3 L202.6,231.8 L205.2,233.3 L207.8,234.9 L210.3,236.5 L212.9,238.1 L215.4,239.8 L217.9,241.5 L220.3,243.3 L222.8,245.0 L225.2,246.8 L227.6,248.7 L230.0,250.5 L232.3,252.4 L234.7,254.3 L237.0,256.3 L239.3,258.3 L241.6,260.3 L243.8,262.3 L246.1,264.3 L248.3,266.4 L250.5,268.5 L252.7,270.6 L254.8,272.7 L257.0,274.8 L259.1,277.0 L261.2,279.2 L263.3,281.4 L265.4,283.6 L267.5,285.8 L269.6,288.0 L271.6,290.2 L273.7,292.5 L275.7,294.7 L277.7,297.0 L279.7,299.3 L281.7,301.6 L283.6,303.9 L285.6,306.2 L287.5,308.5 L289.5,310.8 L291.4,313.2 L293.3,315.5 L295.2,317.9 L297.1,320.3 L298.9,322.6 L300.8,325.0 L302.6,327.4 L304.5,329.8 L306.3,332.2 L308.1,334.7 L309.9,337.1 L311.7,339.5 L313.5,342.0 L315.2,344.4 L317.0,346.9 L318.7,349.4 L320.5,351.9 L322.2,354.4 L323.9,356.9 L325.6,359.4 L327.3,361.9 L329.0,364.4 L330.6,366.9 L332.3,369.5 L333.9,372.0 L335.5,374.6 L337.2,377.1 L338.8,379.7 L340.4,382.3 L342.0,384.9 L343.5,387.5 L345.1,390.1 L346.6,392.7 L348.2,395.3 L349.7,397.9 L351.2,400.5 L352.7,403.2 L354.2,405.8 L355.7,408.4 L357.2,411.1 L358.6,413.8 L360.1,416.4 L361.5,419.1 L362.9,421.8 L364.3,424.4 L365.7,427.1 L367.1,429.8 L368.5,432.5 L369.9,435.2 L371.2,437.9 L372.5,440.7 L373.9,443.4 L375.2,446.1 L376.5,448.8 L377.8,451.6 L379.1,454.3 L380.3,457.1 L381.6,459.8 L382.8,462.6 L384.1,465.3 L385.3,468.1 L386.5,470.9 L387.7,473.6 L388.9,476.4 L390.1,479.2 L391.3,482.0 L392.4,484.8 L393.6,487.6 L394.7,490.4 L395.9,493.2 L397.0,496.0 L398.1,498.8 L399.3,501.6 L400.4,504.4 L401.5,507.2 L402.6,510.1 L403.7,512.9 L404.8,515.7 L405.8,518.5 L406.9,521.4 L408.0,524.2 L409.0,527.1 L410.1,529.9 L411.2,532.8 L412.2,535.6" stroke="#0000FF" stroke-dasharray="8.844 7.711"/>
</g>
<g stroke="#000" stroke-width="1.55" fill="none" stroke-linecap="butt" stroke-linejoin="round">
<rect x="138.5" y="29.0" width="665.5" height="506.95000000000005"/>
<path d="M155.14,535.95v-5.0M155.14,29.0v5.0M171.78,535.95v-5.0M171.78,29.0v5.0M188.41,535.95v-5.0M188.41,29.0v5.0M205.05,535.95v-5.0M205.05,29.0v5.0M221.69,535.95v-5.0M221.69,29.0v5.0M238.32,535.95v-5.0M238.32,29.0v5.0M254.96,535.95v-5.0M254.96,29.0v5.0M271.60,535.95v-5.0M271.60,29.0v5.0M288.24,535.95v-5.0M288.24,29.0v5.0M304.88,535.95v-10.0M304.88,29.0v10.0M321.51,535.95v-5.0M321.51,29.0v5.0M338.15,535.95v-5.0M338.15,29.0v5.0M354.79,535.95v-5.0M354.79,29.0v5.0M371.42,535.95v-5.0M371.42,29.0v5.0M388.06,535.95v-5.0M388.06,29.0v5.0M404.70,535.95v-5.0M404.70,29.0v5.0M421.34,535.95v-5.0M421.34,29.0v5.0M437.97,535.95v-5.0M437.97,29.0v5.0M454.61,535.95v-5.0M454.61,29.0v5.0M471.25,535.95v-10.0M471.25,29.0v10.0M487.89,535.95v-5.0M487.89,29.0v5.0M504.52,535.95v-5.0M504.52,29.0v5.0M521.16,535.95v-5.0M521.16,29.0v5.0M537.80,535.95v-5.0M537.80,29.0v5.0M554.44,535.95v-5.0M554.44,29.0v5.0M571.08,535.95v-5.0M571.08,29.0v5.0M587.71,535.95v-5.0M587.71,29.0v5.0M604.35,535.95v-5.0M604.35,29.0v5.0M620.99,535.95v-5.0M620.99,29.0v5.0M637.62,535.95v-10.0M637.62,29.0v10.0M654.26,535.95v-5.0M654.26,29.0v5.0M670.90,535.95v-5.0M670.90,29.0v5.0M687.54,535.95v-5.0M687.54,29.0v5.0M704.17,535.95v-5.0M704.17,29.0v5.0M720.81,535.95v-5.0M720.81,29.0v5.0M737.45,535.95v-5.0M737.45,29.0v5.0M754.09,535.95v-5.0M754.09,29.0v5.0M770.73,535.95v-5.0M770.73,29.0v5.0M787.36,535.95v-5.0M787.36,29.0v5.0M138.5,54.35h6.7M804.0,54.35h-6.7M138.5,79.70h6.7M804.0,79.70h-6.7M138.5,105.04h6.7M804.0,105.04h-6.7M138.5,130.39h13.3M804.0,130.39h-13.3M138.5,155.74h6.7M804.0,155.74h-6.7M138.5,181.09h6.7M804.0,181.09h-6.7M138.5,206.43h6.7M804.0,206.43h-6.7M138.5,231.78h13.3M804.0,231.78h-13.3M138.5,257.13h6.7M804.0,257.13h-6.7M138.5,282.48h6.7M804.0,282.48h-6.7M138.5,307.82h6.7M804.0,307.82h-6.7M138.5,333.17h13.3M804.0,333.17h-13.3M138.5,358.52h6.7M804.0,358.52h-6.7M138.5,383.87h6.7M804.0,383.87h-6.7M138.5,409.21h6.7M804.0,409.21h-6.7M138.5,434.56h13.3M804.0,434.56h-13.3M138.5,459.91h6.7M804.0,459.91h-6.7M138.5,485.26h6.7M804.0,485.26h-6.7M138.5,510.60h6.7M804.0,510.60h-6.7" stroke-width="1.4"/>
</g>
<path d="M404.8,46.80H454.9" stroke="#FFA500" stroke-width="1.85" fill="none"/>
<path d="M404.8,64.55H454.9" stroke="#FF0000" stroke-width="1.85" fill="none"/>
<path d="M404.8,82.30H454.9" stroke="#00FF00" stroke-width="1.85" fill="none"/>
<path d="M404.8,100.05H454.9" stroke="#0000FF" stroke-width="1.85" fill="none"/>
<g stroke="#000" stroke-width="2" fill="none">
<path d="M570.8,54.1H620.7"/>
<path d="M570.8,69.3H577.3M581.9,69.3h2M588.9,69.3H596.1M601.9,69.3h2M608.2,69.3H616.6"/>
<path d="M570.8,84.9H579.3M587.7,84.9H596.1M604.6,84.9H612.6"/>
</g>
<circle cx="516.0" cy="584.35" r="2.9" stroke="#000" stroke-width="1.3" fill="none"/>
<circle cx="516.0" cy="584.35" r="1.0" fill="#000"/>
<path d="M377.93,9.44L376.71,8.22L374.88,7.61L372.44,7.61L370.62,8.22L369.40,9.44L369.40,10.66L370.01,11.87L370.62,12.48L371.84,13.09L375.49,14.31L376.71,14.92L377.32,15.53L377.93,16.75L377.93,18.57L376.71,19.79L374.88,20.40L372.44,20.40L370.62,19.79L369.40,18.57M382.80,7.61L382.80,17.96L383.41,19.79L384.62,20.40L385.84,20.40M380.97,11.87L385.23,11.87M388.89,15.53L396.20,15.53L396.20,14.31L395.59,13.09L394.98,12.48L393.76,11.87L391.93,11.87L390.71,12.48L389.50,13.70L388.89,15.53L388.89,16.75L389.50,18.57L390.71,19.79L391.93,20.40L393.76,20.40L394.98,19.79L396.20,18.57M400.46,7.61L400.46,20.40M405.33,7.61L405.33,20.40M416.90,11.87L416.90,20.40M416.90,13.70L415.68,12.48L414.47,11.87L412.64,11.87L411.42,12.48L410.20,13.70L409.59,15.53L409.59,16.75L410.20,18.57L411.42,19.79L412.64,20.40L414.47,20.40L415.68,19.79L416.90,18.57M421.77,11.87L421.77,20.40M421.77,15.53L422.38,13.70L423.60,12.48L424.82,11.87L426.65,11.87M439.43,7.61L439.43,20.40M439.43,7.61L444.31,20.40M449.18,7.61L444.31,20.40M449.18,7.61L449.18,20.40M460.75,11.87L460.75,20.40M460.75,13.70L459.53,12.48L458.31,11.87L456.49,11.87L455.27,12.48L454.05,13.70L453.44,15.53L453.44,16.75L454.05,18.57L455.27,19.79L456.49,20.40L458.31,20.40L459.53,19.79L460.75,18.57M471.71,13.70L471.10,12.48L469.28,11.87L467.45,11.87L465.62,12.48L465.01,13.70L465.62,14.92L466.84,15.53L469.88,16.14L471.10,16.75L471.71,17.96L471.71,18.57L471.10,19.79L469.28,20.40L467.45,20.40L465.62,19.79L465.01,18.57M482.06,13.70L481.46,12.48L479.63,11.87L477.80,11.87L475.97,12.48L475.37,13.70L475.97,14.92L477.19,15.53L480.24,16.14L481.46,16.75L482.06,17.96L482.06,18.57L481.46,19.79L479.63,20.40L477.80,20.40L475.97,19.79L475.37,18.57M496.07,7.61L496.07,20.40M496.07,7.61L503.99,7.61M496.07,13.70L500.94,13.70M507.03,11.87L507.03,17.96L507.64,19.79L508.86,20.40L510.69,20.40L511.91,19.79L513.73,17.96M513.73,11.87L513.73,20.40M518.61,11.87L518.61,20.40M518.61,14.31L520.43,12.48L521.65,11.87L523.48,11.87L524.69,12.48L525.30,14.31L525.30,20.40M536.88,13.70L535.66,12.48L534.44,11.87L532.61,11.87L531.39,12.48L530.18,13.70L529.57,15.53L529.57,16.75L530.18,18.57L531.39,19.79L532.61,20.40L534.44,20.40L535.66,19.79L536.88,18.57M541.75,7.61L541.75,17.96L542.36,19.79L543.57,20.40L544.79,20.40M539.92,11.87L544.18,11.87M547.84,7.61L548.45,8.22L549.05,7.61L548.45,7.00L547.84,7.61M548.45,11.87L548.45,20.40M555.75,11.87L554.54,12.48L553.32,13.70L552.71,15.53L552.71,16.75L553.32,18.57L554.54,19.79L555.75,20.40L557.58,20.40L558.80,19.79L560.02,18.57L560.63,16.75L560.63,15.53L560.02,13.70L558.80,12.48L557.58,11.87L555.75,11.87M564.89,11.87L564.89,20.40M564.89,14.31L566.72,12.48L567.93,11.87L569.76,11.87L570.98,12.48L571.59,14.31L571.59,20.40M125.86,29.11L124.07,29.70L122.88,31.48L122.28,34.46L122.28,36.25L122.88,39.22L124.07,41.01L125.86,41.60L127.05,41.60L128.83,41.01L130.02,39.22L130.62,36.25L130.62,34.46L130.02,31.48L128.83,29.70L127.05,29.11L125.86,29.11M108.00,132.45L118.12,132.45M122.88,128.28L122.88,127.69L123.47,126.50L124.07,125.90L125.26,125.31L127.64,125.31L128.83,125.90L129.43,126.50L130.02,127.69L130.02,128.88L129.43,130.06L128.24,131.85L122.28,137.80L130.62,137.80M108.00,233.75L118.12,233.75M128.24,226.60L122.28,234.94L131.21,234.94M128.24,226.60L128.24,239.10M108.00,335.04L118.12,335.04M130.02,329.69L129.43,328.50L127.64,327.90L126.45,327.90L124.66,328.50L123.47,330.28L122.88,333.26L122.88,336.23L123.47,338.61L124.66,339.80L126.45,340.40L127.05,340.40L128.83,339.80L130.02,338.61L130.62,336.83L130.62,336.23L130.02,334.45L128.83,333.26L127.05,332.66L126.45,332.66L124.66,333.26L123.47,334.45L122.88,336.23M108.00,436.44L118.12,436.44M125.26,429.31L123.47,429.90L122.88,431.09L122.88,432.28L123.47,433.47L124.66,434.06L127.05,434.66L128.83,435.25L130.02,436.44L130.62,437.63L130.62,439.42L130.02,440.61L129.43,441.20L127.64,441.80L125.26,441.80L123.47,441.20L122.88,440.61L122.28,439.42L122.28,437.63L122.88,436.44L124.07,435.25L125.86,434.66L128.24,434.06L129.43,433.47L130.02,432.28L130.02,431.09L129.43,429.90L127.64,429.31L125.26,429.31M96.11,530.35L106.22,530.35M112.17,525.59L113.36,524.99L115.15,523.21L115.15,535.70M125.86,523.21L124.07,523.80L122.88,525.59L122.29,528.56L122.29,530.35L122.88,533.32L124.07,535.11L125.86,535.70L127.05,535.70L128.83,535.11L130.02,533.32L130.62,530.35L130.62,528.56L130.02,525.59L128.83,523.80L127.05,523.21L125.86,523.21M141.47,554.27L140.88,556.06L139.69,557.25L137.90,557.84L137.31,557.84L135.52,557.25L134.33,556.06L133.74,554.27L133.74,553.68L134.33,551.89L135.52,550.70L137.31,550.11L137.90,550.11L139.69,550.70L140.88,551.89L141.47,554.27L141.47,557.25L140.88,560.22L139.69,562.00L137.90,562.60L136.71,562.60L134.93,562.00L134.33,560.82M295.92,552.49L297.11,551.89L298.90,550.11L298.90,562.60M309.61,550.11L307.82,550.70L306.63,552.49L306.04,555.46L306.04,557.25L306.63,560.22L307.82,562.00L309.61,562.60L310.80,562.60L312.58,562.00L313.77,560.22L314.37,557.25L314.37,555.46L313.77,552.49L312.58,550.70L310.80,550.11L309.61,550.11M462.27,552.49L463.46,551.89L465.25,550.11L465.25,562.60M474.17,552.49L475.36,551.89L477.15,550.11L477.15,562.60M628.62,552.49L629.81,551.89L631.60,550.11L631.60,562.60M639.33,553.08L639.33,552.49L639.93,551.30L640.52,550.70L641.71,550.11L644.09,550.11L645.28,550.70L645.88,551.30L646.47,552.49L646.47,553.68L645.88,554.87L644.69,556.65L638.74,562.60L647.07,562.60M794.97,552.49L796.16,551.89L797.94,550.11L797.94,562.60M806.27,550.11L812.82,550.11L809.25,554.87L811.03,554.87L812.23,555.46L812.82,556.06L813.41,557.84L813.41,559.03L812.82,560.82L811.63,562.00L809.85,562.60L808.06,562.60L806.27,562.00L805.68,561.41L805.08,560.22M478.26,41.76L472.50,49.10M472.50,41.76L478.26,41.76M472.50,49.10L478.26,49.10M481.41,45.96L481.41,44.91L481.93,43.34L482.98,42.81L484.03,42.81L485.08,43.34L487.17,44.91L488.22,45.43L489.27,45.43L490.32,44.91L490.84,43.86M481.41,44.91L481.93,43.86L482.98,43.34L484.03,43.34L485.08,43.86L487.17,45.43L488.22,45.96L489.27,45.96L490.32,45.43L490.84,43.86L490.84,42.81M497.13,38.10L495.56,38.62L494.51,40.19L493.98,42.81L493.98,44.38L494.51,47.00L495.56,48.58L497.13,49.10L498.18,49.10L499.75,48.58L500.80,47.00L501.32,44.38L501.32,42.81L500.80,40.19L499.75,38.62L498.18,38.10L497.13,38.10M478.26,59.51L472.50,66.85M472.50,59.51L478.26,59.51M472.50,66.85L478.26,66.85M481.41,63.71L481.41,62.66L481.93,61.09L482.98,60.56L484.03,60.56L485.08,61.09L487.17,62.66L488.22,63.18L489.27,63.18L490.32,62.66L490.84,61.61M481.41,62.66L481.93,61.61L482.98,61.09L484.03,61.09L485.08,61.61L487.17,63.18L488.22,63.71L489.27,63.71L490.32,63.18L490.84,61.61L490.84,60.56M495.56,57.94L496.60,57.42L498.18,55.85L498.18,66.85M478.26,77.26L472.50,84.60M472.50,77.26L478.26,77.26M472.50,84.60L478.26,84.60M481.41,81.46L481.41,80.41L481.93,78.84L482.98,78.31L484.03,78.31L485.08,78.84L487.17,80.41L488.22,80.93L489.27,80.93L490.32,80.41L490.84,79.36M481.41,80.41L481.93,79.36L482.98,78.84L484.03,78.84L485.08,79.36L487.17,80.93L488.22,81.46L489.27,81.46L490.32,80.93L490.84,79.36L490.84,78.31M495.03,73.60L500.80,73.60L497.65,77.79L499.22,77.79L500.27,78.31L500.80,78.84L501.32,80.41L501.32,81.46L500.80,83.03L499.75,84.08L498.18,84.60L496.60,84.60L495.03,84.08L494.51,83.55L493.98,82.50M478.26,95.01L472.50,102.35M472.50,95.01L478.26,95.01M472.50,102.35L478.26,102.35M481.41,99.21L481.41,98.16L481.93,96.59L482.98,96.06L484.03,96.06L485.08,96.59L487.17,98.16L488.22,98.68L489.27,98.68L490.32,98.16L490.84,97.11M481.41,98.16L481.93,97.11L482.98,96.59L484.03,96.59L485.08,97.11L487.17,98.68L488.22,99.21L489.27,99.21L490.32,98.68L490.84,97.11L490.84,96.06M500.80,92.92L500.27,91.87L498.70,91.35L497.65,91.35L496.08,91.87L495.03,93.44L494.51,96.06L494.51,98.68L495.03,100.78L496.08,101.83L497.65,102.35L498.18,102.35L499.75,101.83L500.80,100.78L501.32,99.21L501.32,98.68L500.80,97.11L499.75,96.06L498.18,95.54L497.65,95.54L496.08,96.06L495.03,97.11L494.51,98.68M639.10,45.89L639.10,53.90L639.63,55.50L640.70,56.57L642.30,57.10L643.37,57.10L644.97,56.57L646.04,55.50L646.58,53.90L646.58,45.89M649.25,45.89L653.52,57.10M657.79,45.89L653.52,57.10M665.27,47.49L665.27,57.10M660.46,52.29L670.07,52.29M674.34,45.89L674.34,57.10M674.34,45.89L681.29,45.89M674.34,51.23L678.62,51.23M683.96,45.89L683.96,57.10M688.23,45.89L688.23,57.10M688.23,45.89L693.03,45.89L694.64,46.42L695.17,46.95L695.70,48.02L695.70,49.09L695.17,50.16L694.64,50.69L693.03,51.23L688.23,51.23M691.97,51.23L695.70,57.10M639.10,61.29L639.10,69.30L639.63,70.90L640.70,71.97L642.30,72.50L643.37,72.50L644.97,71.97L646.04,70.90L646.58,69.30L646.58,61.29M649.25,61.29L653.52,72.50M657.79,61.29L653.52,72.50M674.88,61.29L674.88,72.50M674.88,66.63L673.81,65.56L672.74,65.02L671.14,65.02L670.07,65.56L669.00,66.63L668.47,68.23L668.47,69.30L669.00,70.90L670.07,71.97L671.14,72.50L672.74,72.50L673.81,71.97L674.88,70.90M679.15,65.02L679.15,70.36L679.68,71.97L680.75,72.50L682.35,72.50L683.42,71.97L685.02,70.36M685.02,65.02L685.02,72.50M694.64,66.63L694.10,65.56L692.50,65.02L690.90,65.02L689.30,65.56L688.76,66.63L689.30,67.69L690.36,68.23L693.03,68.76L694.10,69.30L694.64,70.36L694.64,70.90L694.10,71.97L692.50,72.50L690.90,72.50L689.30,71.97L688.76,70.90M698.91,61.29L698.91,70.36L699.44,71.97L700.51,72.50L701.58,72.50M697.31,65.02L701.04,65.02M719.20,66.63L718.13,65.56L717.06,65.02L715.46,65.02L714.39,65.56L713.33,66.63L712.79,68.23L712.79,69.30L713.33,70.90L714.39,71.97L715.46,72.50L717.06,72.50L718.13,71.97L719.20,70.90M725.07,65.02L724.01,65.56L722.94,66.63L722.40,68.23L722.40,69.30L722.94,70.90L724.01,71.97L725.07,72.50L726.68,72.50L727.74,71.97L728.81,70.90L729.35,69.30L729.35,68.23L728.81,66.63L727.74,65.56L726.68,65.02L725.07,65.02M733.08,65.02L733.08,72.50M733.08,68.23L733.62,66.63L734.69,65.56L735.75,65.02L737.36,65.02M740.03,65.02L740.03,72.50M740.03,68.23L740.56,66.63L741.63,65.56L742.70,65.02L744.30,65.02M747.50,71.43L746.97,71.97L747.50,72.50L748.04,71.97L747.50,71.43M639.10,76.39L639.10,84.40L639.63,86.00L640.70,87.07L642.30,87.60L643.37,87.60L644.97,87.07L646.04,86.00L646.58,84.40L646.58,76.39M649.25,76.39L653.52,87.60M657.79,76.39L653.52,87.60M416.56,572.91L416.56,585.30M423.64,577.04L422.46,577.63L421.28,578.81L420.69,580.58L420.69,581.76L421.28,583.53L422.46,584.71L423.64,585.30L425.41,585.30L426.59,584.71L427.77,583.53L428.36,581.76L428.36,580.58L427.77,578.81L426.59,577.63L425.41,577.04L423.64,577.04M438.98,577.04L438.98,586.48L438.39,588.25L437.80,588.84L436.62,589.43L434.85,589.43L433.67,588.84M438.98,578.81L437.80,577.63L436.62,577.04L434.85,577.04L433.67,577.63L432.49,578.81L431.90,580.58L431.90,581.76L432.49,583.53L433.67,584.71L434.85,585.30L436.62,585.30L437.80,584.71L438.98,583.53M453.14,572.91L453.14,585.30M453.14,572.91L457.86,585.30M462.58,572.91L457.86,585.30M462.58,572.91L462.58,585.30M491.82,570.55L491.82,589.43M492.41,570.55L492.41,589.43M491.82,570.55L495.95,570.55M491.82,589.43L495.95,589.43M500.08,572.91L500.08,585.30M500.08,572.91L504.80,585.30M509.52,572.91L504.80,585.30M509.52,572.91L509.52,585.30M523.99,570.55L523.99,589.43M524.58,570.55L524.58,589.43M520.45,570.55L524.58,570.55M520.45,589.43L524.58,589.43M65.61,383.34L78.00,383.34M69.74,376.26L70.33,377.44L71.51,378.62L73.28,379.21L74.46,379.21L76.23,378.62L77.41,377.44L78.00,376.26L78.00,374.49L77.41,373.31L76.23,372.13L74.46,371.54L73.28,371.54L71.51,372.13L70.33,373.31L69.74,374.49L69.74,376.26M69.74,360.92L79.18,360.92L80.95,361.51L81.54,362.10L82.13,363.28L82.13,365.05L81.54,366.23M71.51,360.92L70.33,362.10L69.74,363.28L69.74,365.05L70.33,366.23L71.51,367.41L73.28,368.00L74.46,368.00L76.23,367.41L77.41,366.23L78.00,365.05L78.00,363.28L77.41,362.10L76.23,360.92M65.61,346.76L78.00,346.76M65.61,346.76L78.00,338.50M65.61,338.50L78.00,338.50M63.25,329.65L64.43,330.83L66.20,332.01L68.56,333.19L71.51,333.78L73.87,333.78L76.82,333.19L79.18,332.01L80.95,330.83L82.13,329.65M65.61,325.52L78.00,325.52M69.74,318.44L70.33,319.62L71.51,320.80L73.28,321.39L74.46,321.39L76.23,320.80L77.41,319.62L78.00,318.44L78.00,316.67L77.41,315.49L76.23,314.31L74.46,313.72L73.28,313.72L71.51,314.31L70.33,315.49L69.74,316.67L69.74,318.44M69.74,303.10L79.18,303.10L80.95,303.69L81.54,304.28L82.13,305.46L82.13,307.23L81.54,308.41M71.51,303.10L70.33,304.28L69.74,305.46L69.74,307.23L70.33,308.41L71.51,309.59L73.28,310.18L74.46,310.18L76.23,309.59L77.41,308.41L78.00,307.23L78.00,305.46L77.41,304.28L76.23,303.10M65.61,288.94L78.00,288.94M65.61,288.94L78.00,284.22M65.61,279.50L78.00,284.22M65.61,279.50L78.00,279.50M63.25,259.89L64.43,258.71L66.20,257.53L68.56,256.35L71.51,255.76L73.87,255.76L76.82,256.35L79.18,257.53L80.95,258.71L82.13,259.89M63.25,241.60L82.13,241.60M63.25,241.01L82.13,241.01M63.25,241.60L63.25,237.47M82.13,241.60L82.13,237.47M65.61,233.34L78.00,233.34M65.61,233.34L78.00,228.62M65.61,223.90L78.00,228.62M65.61,223.90L78.00,223.90M69.74,219.18L82.13,219.18M71.51,219.18L70.33,218.00L69.74,216.82L69.74,215.05L70.33,213.87L71.51,212.69L73.28,212.10L74.46,212.10L76.23,212.69L77.41,213.87L78.00,215.05L78.00,216.82L77.41,218.00L76.23,219.18M71.51,201.48L70.33,202.66L69.74,203.84L69.74,205.61L70.33,206.79L71.51,207.97L73.28,208.56L74.46,208.56L76.23,207.97L77.41,206.79L78.00,205.61L78.00,203.84L77.41,202.66L76.23,201.48M68.12,199.05L68.12,194.73M65.07,192.45L65.07,189.66L67.10,191.18L67.10,190.42L67.36,189.91L67.61,189.66L68.37,189.41L68.88,189.41L69.64,189.66L70.15,190.17L70.40,190.93L70.40,191.69L70.15,192.45L69.89,192.70L69.39,192.96M63.25,182.73L82.13,182.73M63.25,182.14L82.13,182.14M63.25,186.27L63.25,182.14M82.13,186.27L82.13,182.14" fill="none" stroke="#000" stroke-width="1.4" stroke-linejoin="round" stroke-linecap="butt"/>
<path d="M468.79,585.21L468.54,584.70L467.78,584.45L467.02,584.45L466.25,584.70L466.00,585.21L466.25,585.72L466.76,585.97L468.03,586.22L468.54,586.48L468.79,586.99L468.79,587.24L468.54,587.75L467.78,588.00L467.02,588.00L466.25,587.75L466.00,587.24M470.82,582.67L470.82,586.99L471.08,587.75L471.58,588.00L472.09,588.00M470.06,584.45L471.84,584.45M476.40,584.45L476.40,588.00M476.40,585.21L475.90,584.70L475.39,584.45L474.63,584.45L474.12,584.70L473.61,585.21L473.36,585.97L473.36,586.48L473.61,587.24L474.12,587.75L474.63,588.00L475.39,588.00L475.90,587.75L476.40,587.24M478.43,584.45L478.43,588.00M478.43,585.97L478.69,585.21L479.19,584.70L479.70,584.45L480.46,584.45M77.91,273.29L77.40,273.54L77.15,274.30L77.15,275.06L77.40,275.83L77.91,276.08L78.42,275.83L78.67,275.32L78.92,274.05L79.18,273.54L79.69,273.29L79.94,273.29L80.45,273.54L80.70,274.30L80.70,275.06L80.45,275.83L79.94,276.08M75.37,271.26L79.69,271.26L80.45,271.00L80.70,270.50L80.70,269.99M77.15,272.02L77.15,270.24M77.15,265.68L80.70,265.68M77.91,265.68L77.40,266.18L77.15,266.69L77.15,267.45L77.40,267.96L77.91,268.47L78.67,268.72L79.18,268.72L79.94,268.47L80.45,267.96L80.70,267.45L80.70,266.69L80.45,266.18L79.94,265.68M77.15,263.65L80.70,263.65M78.67,263.65L77.91,263.39L77.40,262.89L77.15,262.38L77.15,261.62" fill="none" stroke="#000" stroke-width="1.65" stroke-linejoin="round" stroke-linecap="butt"/>
</svg></body></html>
